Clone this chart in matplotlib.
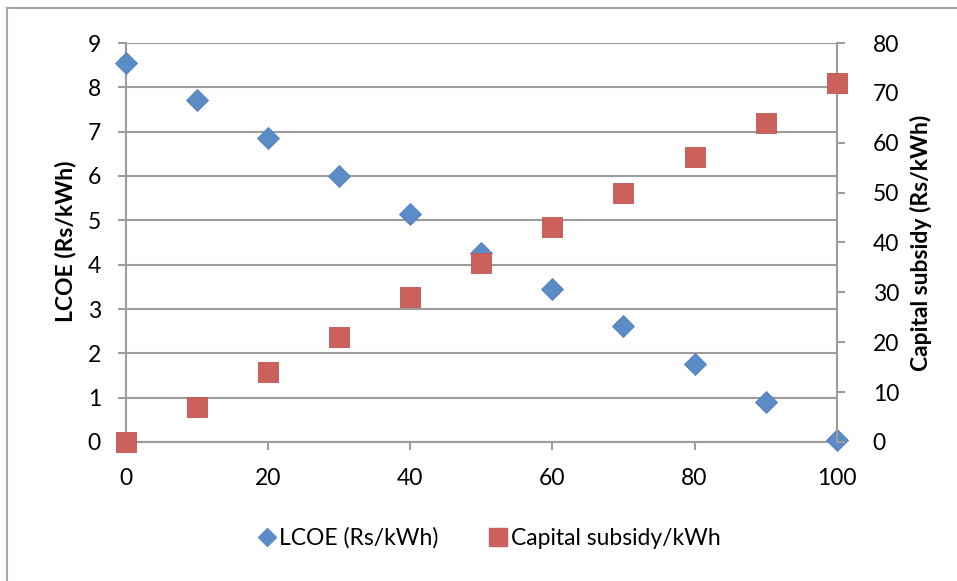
import numpy as np
import matplotlib.pyplot as plt
from matplotlib.lines import Line2D

plt.rcParams['font.family'] = ['Lato', 'DejaVu Sans']

subsidy_pct = [0, 10, 20, 30, 40, 50, 60, 70, 80, 90, 100]
lcoe = [8.56, 7.71, 6.86, 6.01, 5.15, 4.27, 3.46, 2.62, 1.76, 0.91, 0.05]
capital_subsidy = [0.0, 7.1, 14.1, 21.1, 29.1, 35.9, 43.2, 50.0, 57.1, 64.0, 72.0]

blue = '#5B8CC8'
red = '#CC605B'
grid_col = '#9C9C9C'

fig = plt.figure(figsize=(9.57, 5.81), dpi=100)
W, H = 957, 581
ax = fig.add_axes([126 / W, (H - 442) / H, (836.7 - 126) / W, (442 - 43) / H])
ax2 = ax.twinx()

ax.scatter(subsidy_pct, lcoe, marker='D', s=11.2 ** 2, color=blue,
           edgecolors='#4F7FBA', linewidths=0.6, clip_on=False, zorder=3,
           label='LCOE (Rs/kWh)')
ax2.scatter(subsidy_pct, capital_subsidy, marker='s', s=14.9 ** 2, color=red,
            edgecolors='#BE5550', linewidths=0.6, clip_on=False, zorder=3,
            label='Capital subsidy/kWh')

ax.set_xlim(0, 100)
ax.set_ylim(0, 9)
ax2.set_ylim(0, 80)
ax.set_xticks(np.arange(0, 101, 20))
ax.set_yticks(np.arange(0, 10, 1))
ax2.set_yticks(np.arange(0, 81, 10))

ax.grid(axis='y', color=grid_col, linewidth=1.5)
ax.set_axisbelow(True)

for a in (ax, ax2):
    for s in a.spines.values():
        s.set_visible(False)
ax.spines['left'].set_visible(True)
ax.spines['bottom'].set_visible(True)
ax2.spines['right'].set_visible(True)
for s in (ax.spines['left'], ax.spines['bottom'], ax2.spines['right']):
    s.set_color(grid_col)
    s.set_linewidth(1.5)

ax.tick_params(axis='both', direction='out', length=6, width=1.5, color=grid_col,
               labelsize=16.5, labelcolor='black')
ax.tick_params(axis='y', pad=12)
ax.tick_params(axis='x', pad=13)
ax2.tick_params(axis='y', direction='out', length=6, width=1.5, color=grid_col,
                labelsize=16.5, labelcolor='black', pad=20)

fig.text(66 / W, 1 - 241 / H, 'LCOE (Rs/kWh)', rotation=90, fontsize=16.5,
         fontweight='bold', ha='center', va='center')
fig.text(921 / W, 1 - 243 / H, 'Capital subsidy (Rs/kWh)', rotation=90, fontsize=16.5,
         fontweight='bold', ha='center', va='center')

handles = [
    Line2D([], [], marker='D', linestyle='none', markersize=8.7, color=blue),
    Line2D([], [], marker='s', linestyle='none', markersize=13, color=red),
]
fig.legend(handles, ['LCOE (Rs/kWh)', 'Capital subsidy/kWh'], loc='center',
           bbox_to_anchor=(489 / W, 1 - 538 / H), ncol=2, frameon=False,
           fontsize=16.5, handlelength=0.8, handletextpad=0.15, columnspacing=2.2)

# outer chart border (top and left edges visible)
fig.add_artist(Line2D([7 / W, 7 / W], [0, 1 - 8 / H], color='#A6A6A6', linewidth=1.5))
fig.add_artist(Line2D([7 / W, 1], [1 - 8 / H, 1 - 8 / H], color='#A6A6A6', linewidth=1.5))

fig.savefig('out.png', dpi=100)
